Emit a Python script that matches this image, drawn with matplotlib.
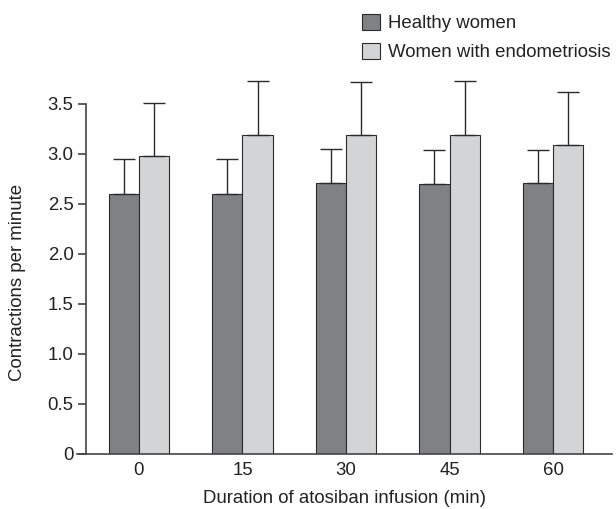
import numpy as np
import matplotlib.pyplot as plt

plt.rcParams['font.family'] = ['Liberation Sans', 'DejaVu Sans']

durations = ['0', '15', '30', '45', '60']
healthy = [2.60, 2.60, 2.71, 2.70, 2.71]
healthy_err = [0.35, 0.35, 0.34, 0.34, 0.33]
endo = [2.98, 3.19, 3.19, 3.19, 3.09]
endo_err = [0.53, 0.54, 0.53, 0.54, 0.53]

fig = plt.figure(figsize=(6.16, 5.09), dpi=100)
ax = fig.add_axes([77/616, 1 - 454/509, (612 - 77)/616, (454 - 74)/509])

x = np.arange(len(durations))
w = 0.29
dark = '#808185'
light = '#d3d4d6'
edge = '#2a2a2a'
fs = 13.4

ax.bar(x - w/2, healthy, w, color=dark, edgecolor=edge, linewidth=0.8,
       yerr=[np.zeros(5), healthy_err], error_kw=dict(ecolor=edge, elinewidth=1, capsize=8, capthick=1),
       label='Healthy women', zorder=2)
ax.bar(x + w/2, endo, w, color=light, edgecolor=edge, linewidth=0.8,
       yerr=[np.zeros(5), endo_err], error_kw=dict(ecolor=edge, elinewidth=1, capsize=8, capthick=1),
       label='Women with endometriosis', zorder=2)

ax.set_xlim(-0.599, 4.57)
ax.set_ylim(0, 3.8)
ax.spines['top'].set_visible(False)
ax.spines['right'].set_visible(False)
ax.spines['left'].set_position(('data', -0.512))
ax.spines['left'].set_bounds(0, 3.5)
ax.spines['left'].set_color('#444444')
ax.spines['bottom'].set_color('#444444')
ax.spines['left'].set_linewidth(1.2)
ax.spines['bottom'].set_linewidth(1.2)

ax.set_xticks(x)
ax.set_xticklabels(durations)
ax.set_yticks(np.arange(0, 3.51, 0.5))
ax.set_yticklabels(['0', '0.5', '1.0', '1.5', '2.0', '2.5', '3.0', '3.5'])
ax.tick_params(axis='both', labelsize=fs, colors='#222222')
ax.tick_params(axis='y', length=6, width=1.2, color='#444444', pad=3)
ax.tick_params(axis='x', length=0, pad=6)

ax.set_xlabel('Duration of atosiban infusion (min)', fontsize=fs, labelpad=8, color='#222222')
fig.text(18/616, 1 - 282/509, 'Contractions per minute', rotation=90, fontsize=fs,
         ha='center', va='center', color='#222222')

leg = ax.legend(loc='upper left', bbox_to_anchor=(362/616, 1 - 14/509), bbox_transform=fig.transFigure,
                frameon=False, fontsize=fs, handlelength=0.95, handleheight=0.95, handletextpad=0.45,
                labelspacing=0.55, borderaxespad=0, borderpad=0)
for t in leg.get_texts():
    t.set_color('#222222')

fig.savefig('out.png', dpi=100)
